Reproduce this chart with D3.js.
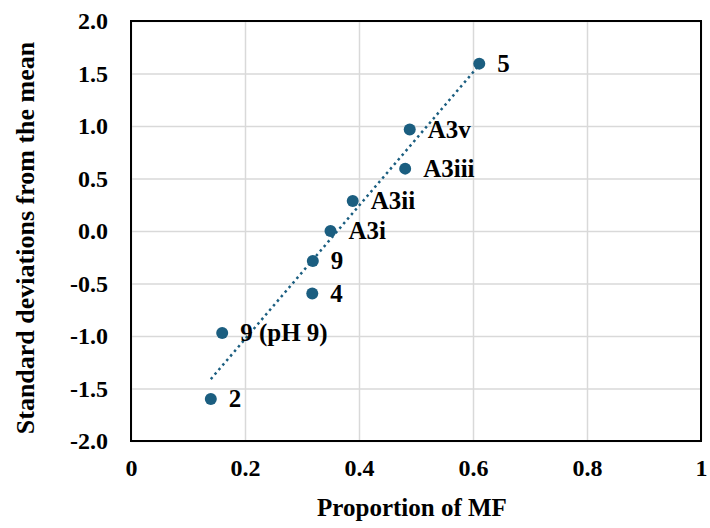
<!DOCTYPE html>
<html>
<head>
<meta charset="utf-8">
<script src="https://cdn.jsdelivr.net/npm/d3@7"></script>
<style>
  html, body { margin: 0; padding: 0; background: #fff; }
  svg { display: block; }
  text { font-family: "Liberation Serif", "Times New Roman", serif; font-weight: bold; fill: #000; }
</style>
</head>
<body>
<svg id="chart" width="710" height="528"></svg>
<script>
// Sample labels and their coordinates
const labels = ["5", "A3v", "A3iii", "A3ii", "A3i", "9", "4", "9 (pH 9)", "2"];
const proportionMF = [0.611, 0.489, 0.481, 0.389, 0.350, 0.319, 0.318, 0.160, 0.140];
const stdDevs = [1.594, 0.966, 0.594, 0.286, 0.000, -0.286, -0.596, -0.971, -1.600];

// Axis ticks
const xTicks = [0, 0.2, 0.4, 0.6, 0.8, 1];
const yTicks = [-2.0, -1.5, -1.0, -0.5, 0.0, 0.5, 1.0, 1.5, 2.0];

const xTitle = "Proportion of MF";
const yTitle = "Standard deviations from the mean";

const svg = d3.select("#chart");
const margin = { left: 131, right: 9, top: 21, bottom: 87 };
const W = 710, H = 528;

const x = d3.scaleLinear().domain([0, 1]).range([margin.left, W - margin.right]);
const y = d3.scaleLinear().domain([-2, 2]).range([H - margin.bottom, margin.top]);

const markColor = "#1b5e80";
// plain hyphen for negatives
const fmt1 = d => d.toFixed(1);

// Gridlines
svg.append("g")
  .attr("transform", `translate(0,${H - margin.bottom})`)
  .call(d3.axisBottom(x).tickValues(xTicks).tickSize(-(H - margin.bottom - margin.top)).tickFormat(""))
  .call(g => g.select(".domain").remove())
  .call(g => g.selectAll("line").attr("stroke", "#d9d9d9").attr("stroke-width", 1.5));

svg.append("g")
  .attr("transform", `translate(${margin.left},0)`)
  .call(d3.axisLeft(y).tickValues(yTicks).tickSize(-(W - margin.left - margin.right)).tickFormat(""))
  .call(g => g.select(".domain").remove())
  .call(g => g.selectAll("line").attr("stroke", "#d9d9d9").attr("stroke-width", 1.5));

// Tick labels
const xAxis = svg.append("g")
  .attr("transform", `translate(0,${H - margin.bottom})`)
  .call(d3.axisBottom(x).tickValues(xTicks).tickSize(0).tickPadding(35)
    .tickFormat(d => d === 0 || d === 1 ? String(d) : fmt1(d)));
xAxis.select(".domain").remove();
xAxis.selectAll("text").attr("font-size", 24).attr("font-family", null).attr("dy", 0);

const yAxis = svg.append("g")
  .attr("transform", `translate(${margin.left},0)`)
  .call(d3.axisLeft(y).tickValues(yTicks).tickSize(0).tickPadding(23).tickFormat(fmt1));
yAxis.select(".domain").remove();
yAxis.selectAll("text").attr("font-size", 24).attr("font-family", null).attr("dy", "0.33em");

// Plot border
svg.append("rect")
  .attr("x", margin.left).attr("y", margin.top)
  .attr("width", W - margin.left - margin.right)
  .attr("height", H - margin.bottom - margin.top)
  .attr("fill", "none").attr("stroke", "#000").attr("stroke-width", 2);

// Linear trendline (least squares) across the data range
const pts = proportionMF.map((v, i) => [v, stdDevs[i]]);
const mx = d3.mean(proportionMF), my = d3.mean(stdDevs);
const sxy = d3.sum(pts, p => (p[0] - mx) * (p[1] - my));
const sxx = d3.sum(pts, p => (p[0] - mx) ** 2);
const slope = sxy / sxx, intercept = my - slope * mx;
const [x0, x1] = d3.extent(proportionMF);
svg.append("path")
  .datum([[x0, intercept + slope * x0], [x1, intercept + slope * x1]])
  .attr("d", d3.line().x(d => x(d[0])).y(d => y(d[1])))
  .attr("stroke", markColor).attr("stroke-width", 2.5)
  .attr("stroke-dasharray", "2.5,3.5").attr("fill", "none");

// Points
svg.append("g").selectAll("circle")
  .data(pts).join("circle")
  .attr("cx", d => x(d[0])).attr("cy", d => y(d[1])).attr("r", 6)
  .attr("fill", markColor);

// Point labels
svg.append("g").selectAll("text")
  .data(pts).join("text")
  .attr("x", d => x(d[0]) + 18).attr("y", d => y(d[1]) + 8)
  .attr("font-size", 25)
  .text((d, i) => labels[i]);

// Axis titles
svg.append("text")
  .attr("x", (x(0) + x(1)) / 2 - 4).attr("y", 516)
  .attr("text-anchor", "middle").attr("font-size", 25)
  .text(xTitle);

svg.append("text")
  .attr("transform", `translate(34,${(y(-2) + y(2)) / 2 + 7}) rotate(-90)`)
  .attr("text-anchor", "middle").attr("font-size", 26)
  .text(yTitle);
</script>
</body>
</html>
